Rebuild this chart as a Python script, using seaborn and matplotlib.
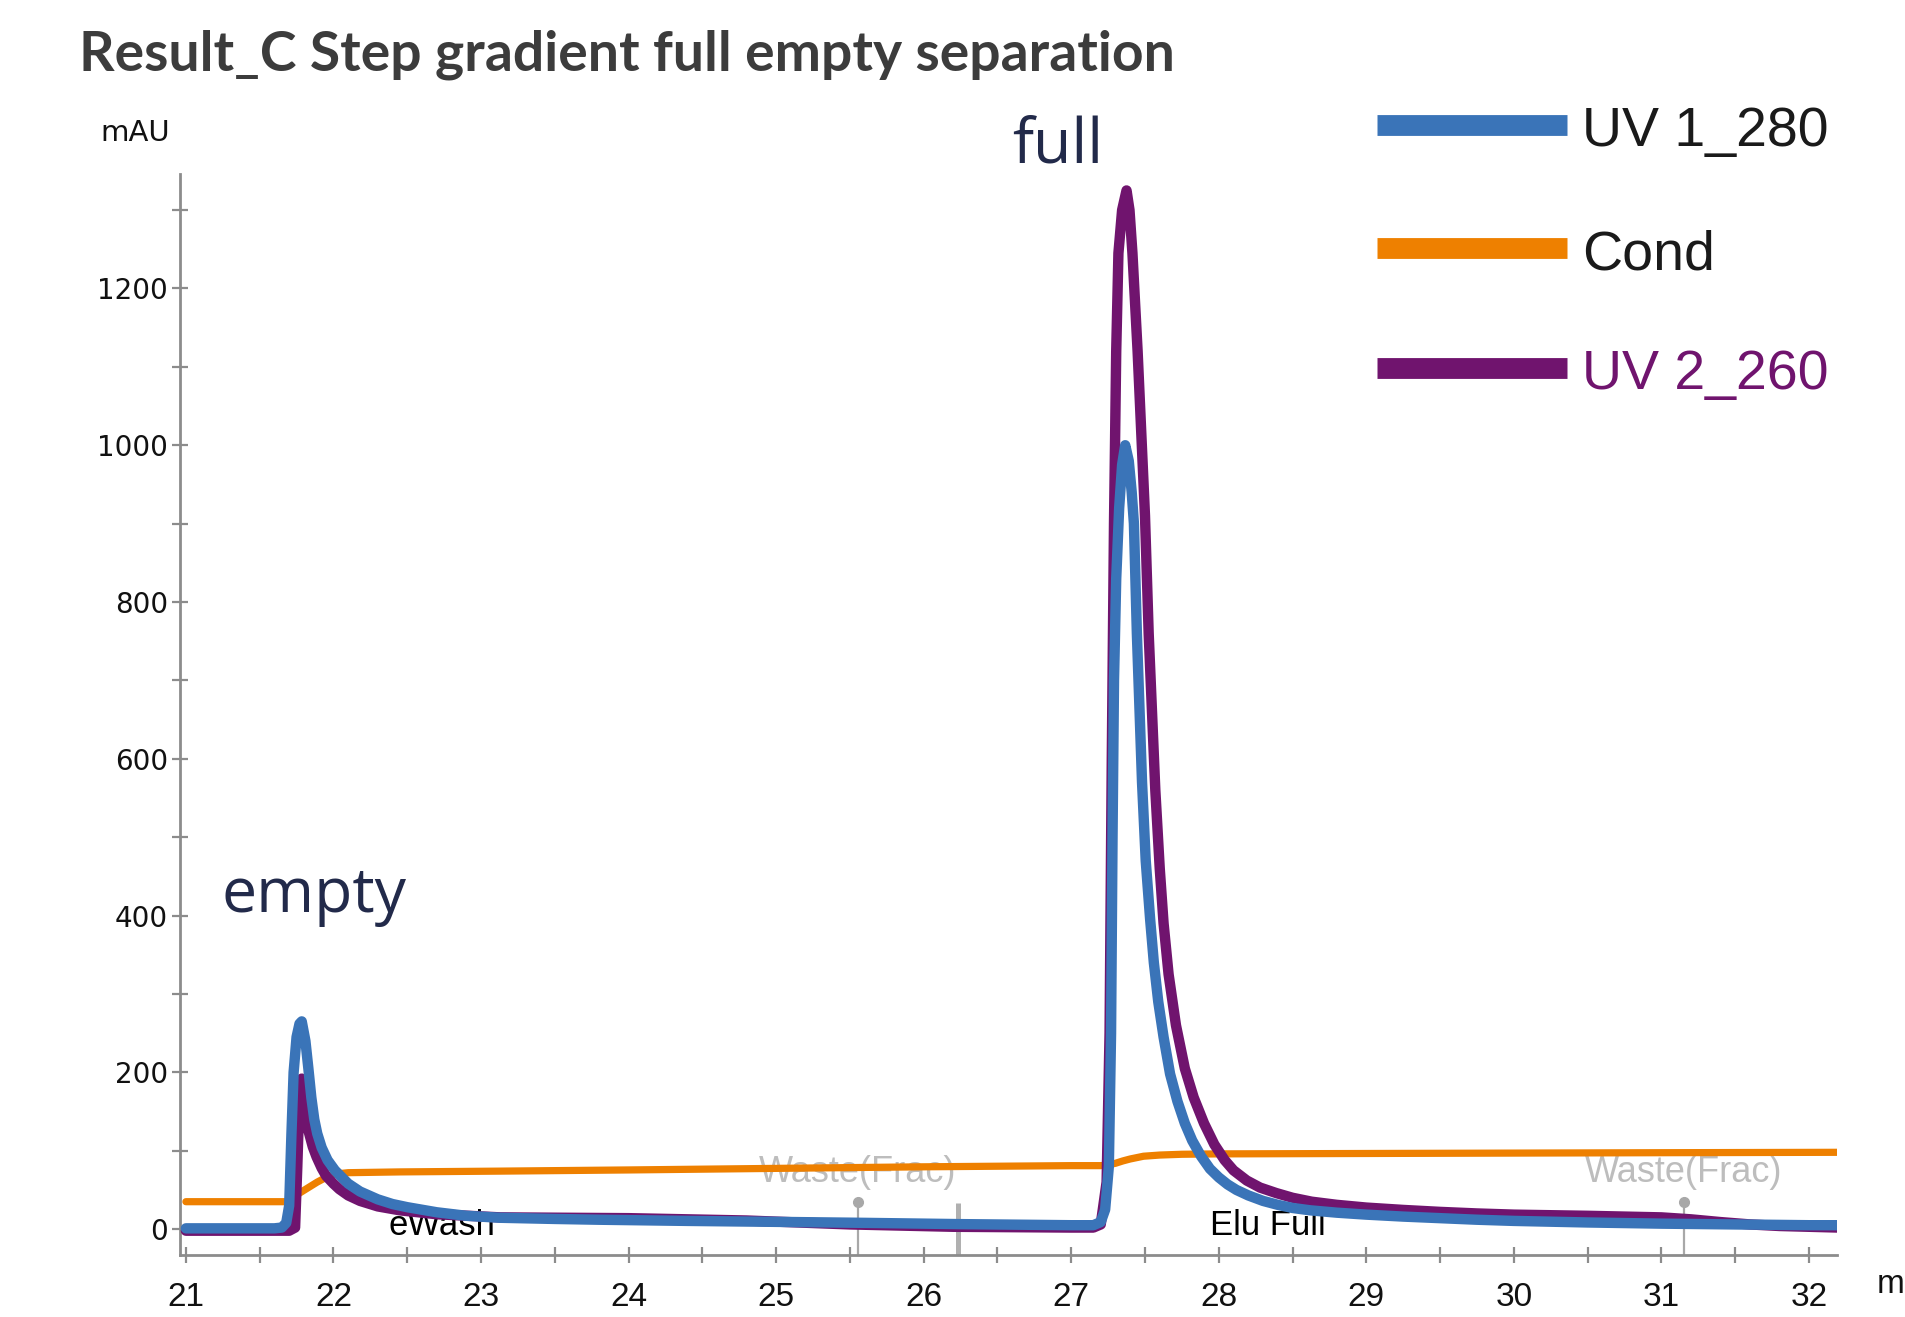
import numpy as np
import matplotlib
matplotlib.use("Agg")
import matplotlib.pyplot as plt
from matplotlib.lines import Line2D
from matplotlib.ticker import MultipleLocator
import seaborn as sns

W, H = 1905, 1317

# ---------------- data ----------------
uv1_time = [21.0, 21.6, 21.65, 21.68, 21.70, 21.715, 21.73, 21.75, 21.77, 21.785,
            21.81, 21.83, 21.85, 21.87, 21.89, 21.92, 21.96, 22.01, 22.1, 22.18,
            22.3, 22.4, 22.5, 22.7, 22.9, 23.13, 23.5, 23.8, 24.4, 24.94,
            25.6, 26.24, 27.0, 27.15, 27.2, 27.23, 27.255, 27.27, 27.28, 27.29,
            27.305, 27.325, 27.345, 27.366, 27.39, 27.41, 27.425, 27.445, 27.48, 27.505,
            27.535, 27.56, 27.59, 27.626, 27.67, 27.72, 27.77, 27.82, 27.88, 27.94,
            28.0, 28.06, 28.12, 28.2, 28.3, 28.4, 28.5, 28.62, 28.8, 29.0,
            29.25, 29.5, 29.75, 30.0, 30.5, 31.0, 31.5, 32.0, 32.2]
uv1_mau = [1, 1, 2, 8, 30, 120, 200, 245, 262, 265,
           240, 205, 168, 140, 122, 104, 88, 75, 58, 48,
           38, 32, 28, 21.5, 17, 14.5, 13, 12, 10.5, 9.4,
           8, 6.4, 5, 5, 9, 25, 80, 250, 500, 700,
           830, 920, 975, 1000, 980, 940, 900, 760, 570, 470,
           395, 340, 290, 245, 198, 163, 135, 113, 93, 77,
           66, 57, 50, 43, 36, 31, 27, 24, 21, 18.5,
           16, 14, 12, 10.5, 8.5, 7, 6, 5, 5]

uv2_time = [21.0, 21.7, 21.74, 21.755, 21.77, 21.785, 21.80, 21.83, 21.86, 21.886,
            21.92, 21.95, 22.0, 22.04, 22.1, 22.18, 22.3, 22.45, 22.7, 23.13,
            24.0, 24.8, 25.5, 26.2, 27.0, 27.15, 27.2, 27.24, 27.26, 27.275,
            27.29, 27.305, 27.32, 27.345, 27.375, 27.395, 27.415, 27.45, 27.5, 27.525,
            27.57, 27.6, 27.626, 27.66, 27.71, 27.77, 27.83, 27.9, 27.97, 28.04,
            28.1, 28.19, 28.28, 28.39, 28.5, 28.63, 28.8, 29.0, 29.25, 29.5,
            29.75, 30.0, 30.5, 31.0, 31.2, 31.4, 31.6, 31.8, 32.0, 32.2]
uv2_mau = [-2, -2, 2, 80, 170, 192, 170, 126, 105, 92,
           78, 68, 58, 51, 43, 36, 29, 24, 19, 15,
           14, 11, 6, 3, 2, 2, 6, 60, 250, 600,
           900, 1120, 1245, 1300, 1325, 1300, 1245, 1120, 910, 760,
           560, 460, 390, 325, 260, 205, 168, 135, 108, 88,
           75, 62, 53, 46, 40, 35, 31, 27.5, 24.5, 22,
           20, 18.5, 17, 15, 12.5, 9, 6, 4, 3, 2]

cond_time = [21.0, 21.68, 21.72, 21.77, 21.83, 21.89, 21.95, 22.0, 22.1, 22.45,
             23.13, 24.0, 25.0, 26.0, 27.0, 27.2, 27.25, 27.3, 27.35, 27.4,
             27.49, 27.6, 27.75, 28.0, 29.0, 30.0, 31.0, 32.2]
cond_val = [35, 35, 38, 46, 53, 60, 66, 70, 72, 73,
            74, 75.5, 77.5, 79.5, 81, 81, 82, 84, 87, 89.5,
            93, 94.5, 95.5, 96, 96.5, 97, 97.5, 98]

series_names = ["UV 1_280", "Cond", "UV 2_260"]
x_major = list(range(21, 33))
y_major = [0, 200, 400, 600, 800, 1000, 1200]

frac_times = [25.555, 31.15]
frac_labels = ["Waste(Frac)", "Waste(Frac)"]
inject_times = [26.234]
event_times = [22.376, 27.94]
event_labels = ["eWash", "Elu Full"]
peak_labels = ["empty", "full"]
peak_pos = [(21.244, 405), (26.60, 1361)]

title = "Result_C Step gradient full empty separation"

# ---------------- style ----------------
sns.set_theme(style="ticks")
plt.rcParams["font.family"] = ["Liberation Sans", "DejaVu Sans"]

C_UV1 = "#3a74b8"
C_COND = "#ee8000"
C_UV2 = "#70146e"
C_AX = "#8c8c8c"
C_NAVY = "#222a4a"

fig = plt.figure(figsize=(W / 100, H / 100), dpi=100)
fig.patch.set_facecolor("white")
ax = fig.add_axes([180 / W, 1 - 1255 / H, (1837 - 180) / W, (1255 - 174) / H])
ax.set_facecolor("white")

sns.lineplot(x=np.array(cond_time), y=np.array(cond_val), ax=ax, color=C_COND,
             linewidth=5.2, estimator=None, sort=False, zorder=3)
sns.lineplot(x=np.array(uv2_time), y=np.array(uv2_mau), ax=ax, color=C_UV2,
             linewidth=7.5, estimator=None, sort=False, zorder=4)
sns.lineplot(x=np.array(uv1_time), y=np.array(uv1_mau), ax=ax, color=C_UV1,
             linewidth=7.5, estimator=None, sort=False, zorder=5)

ax.set_xlim(20.96, 32.19)
ax.set_ylim(-33, 1346)
ax.set_xlabel("")
ax.set_ylabel("")

ax.set_xticks(x_major)
ax.set_yticks(y_major)
ax.xaxis.set_minor_locator(MultipleLocator(0.5))
ax.yaxis.set_minor_locator(MultipleLocator(100))
ax.tick_params(axis="both", which="both", direction="inout", length=11,
               width=1.6, color=C_AX)
ax.tick_params(axis="x", which="major", pad=14, labelsize=24, labelcolor="#111111")
ax.tick_params(axis="y", which="major", pad=3, labelsize=20, labelcolor="#111111")
for lab in ax.get_yticklabels():
    lab.set_fontfamily("DejaVu Sans")
for lab in ax.get_xticklabels():
    lab.set_fontfamily("Liberation Sans")

for s in ["top", "right"]:
    ax.spines[s].set_visible(False)
for s in ["left", "bottom"]:
    ax.spines[s].set_color(C_AX)
    ax.spines[s].set_linewidth(2.0)

# fraction / injection markers
ybot = ax.get_ylim()[0]
for t, lab in zip(frac_times, frac_labels):
    ax.vlines(t, ybot, 34, color="#a8a8a8", linewidth=1.6, zorder=1.5)
    ax.plot([t], [34], marker="o", ms=7, color="#a8a8a8", zorder=1.5, clip_on=False)
    ax.text(t, 60, lab, ha="center", va="baseline", fontsize=26,
            color="#bdbdbd", zorder=1)
for t in inject_times:
    ax.vlines(t, ybot, 33, color="#b0b0b0", linewidth=3.6, zorder=1.5)

for t, lab in zip(event_times, event_labels):
    ax.text(t, -8, lab, ha="left", va="baseline", fontsize=25, color="black",
            zorder=1)

for (t, v), lab in zip(peak_pos, peak_labels):
    ax.text(t, v, lab, ha="left", va="baseline", fontsize=45, color=C_NAVY,
            family=["Open Sans", "DejaVu Sans"], clip_on=False, zorder=6)

# title
ttl = fig.text(79 / W, 1 - 70 / H, title, ha="left", va="baseline",
               fontsize=34, fontweight="bold", color="#3c3c3c",
               family=["Lato", "DejaVu Sans"])
fig.canvas.draw()
bb = ttl.get_window_extent()
ttl.set_fontsize(34 * 1097 / bb.width)

fig.text(100 / W, 1 - 141 / H, "mAU", ha="left", va="baseline", fontsize=21,
         color="#111111", family=["DejaVu Sans"])
# axis unit, cut by the right edge as in the source screenshot
fig.text(1877 / W, 1 - 1293 / H, "min", ha="left", va="baseline", fontsize=24,
         color="#111111")

# legend
leg_y = [125, 248, 368]
leg_col = [C_UV1, C_COND, C_UV2]
txt_col = ["#1a1a1a", "#1a1a1a", C_UV2]
for yy, name, lc, tc in zip(leg_y, series_names, leg_col, txt_col):
    fig.add_artist(Line2D([1377 / W, 1567 / W], [1 - yy / H, 1 - yy / H],
                          color=lc, linewidth=15, solid_capstyle="butt"))
    fig.text(1582 / W, 1 - (yy + 21) / H, name, ha="left", va="baseline",
             fontsize=40, color=tc)

fig.savefig("out.png", dpi=100, facecolor="white")
